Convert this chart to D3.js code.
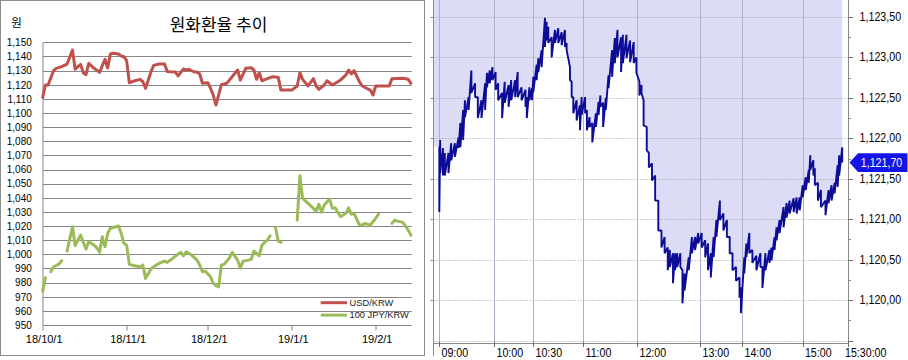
<!DOCTYPE html>
<html><head><meta charset="utf-8">
<script src="https://cdn.jsdelivr.net/npm/d3@7"></script>
<style>html,body{margin:0;padding:0;background:#fff;}svg{display:block;}</style>
</head><body>
<svg id="c" width="908" height="360"></svg>
<script>
// ---------------- DATA ----------------
const chartTitle = "원화환율 추이";
const unitLabel = "원";
const seriesNames = ["USD/KRW", "100 JPY/KRW"];

const usdDates = ["2018-10-01","2018-10-02","2018-10-03","2018-10-05","2018-10-06","2018-10-08","2018-10-09","2018-10-10","2018-10-12","2018-10-13","2018-10-14","2018-10-15","2018-10-16","2018-10-17","2018-10-18","2018-10-20","2018-10-22","2018-10-24","2018-10-25","2018-10-26","2018-10-27","2018-10-29","2018-10-30","2018-10-31","2018-11-01","2018-11-02","2018-11-04","2018-11-06","2018-11-07","2018-11-08","2018-11-10","2018-11-11","2018-11-13","2018-11-15","2018-11-16","2018-11-17","2018-11-19","2018-11-20","2018-11-22","2018-11-23","2018-11-24","2018-11-26","2018-11-27","2018-11-28","2018-11-29","2018-12-01","2018-12-02","2018-12-03","2018-12-04","2018-12-06","2018-12-08","2018-12-12","2018-12-13","2018-12-15","2018-12-17","2018-12-18","2018-12-19","2018-12-20","2018-12-21","2018-12-23","2018-12-25","2018-12-27","2018-12-28","2019-01-01","2019-01-03","2019-01-04","2019-01-05","2019-01-07","2019-01-09","2019-01-10","2019-01-11","2019-01-13","2019-01-14","2019-01-16","2019-01-18","2019-01-19","2019-01-21","2019-01-22","2019-01-23","2019-01-24","2019-01-26","2019-01-27","2019-01-30","2019-01-31","2019-02-01","2019-02-05","2019-02-06","2019-02-07","2019-02-11","2019-02-13","2019-02-14"];
const usdValues = [1111.0,1119.8,1119.8,1129.9,1131.6,1132.8,1133.7,1134.6,1144.6,1130.9,1132.8,1134.4,1128.5,1127.1,1135.1,1131.6,1128.7,1138.0,1131.8,1141.7,1142.2,1141.7,1140.3,1139.8,1137.0,1121.4,1122.8,1123.8,1122.1,1117.4,1129.2,1133.7,1134.6,1134.6,1129.4,1129.2,1129.0,1126.2,1131.1,1130.4,1130.9,1129.0,1129.0,1127.6,1121.0,1121.4,1117.4,1112.7,1105.6,1120.0,1121.0,1130.4,1123.3,1131.6,1132.0,1130.4,1123.8,1128.5,1122.8,1124.3,1125.7,1125.2,1116.2,1116.2,1119.1,1128.5,1123.8,1119.1,1124.3,1119.1,1116.7,1119.8,1122.8,1119.8,1122.1,1123.3,1126.9,1130.4,1127.6,1129.9,1122.1,1119.1,1116.2,1112.7,1119.1,1119.1,1119.1,1124.3,1124.5,1123.8,1121.0];

const jpyDates = ["2018-10-01","2018-10-02","2018-10-03","2018-10-04","2018-10-05","2018-10-07","2018-10-08","2018-10-09","2018-10-10","2018-10-12","2018-10-13","2018-10-14","2018-10-15","2018-10-16","2018-10-17","2018-10-18","2018-10-20","2018-10-21","2018-10-22","2018-10-23","2018-10-24","2018-10-25","2018-10-26","2018-10-28","2018-10-29","2018-10-30","2018-10-31","2018-11-01","2018-11-02","2018-11-04","2018-11-06","2018-11-07","2018-11-08","2018-11-10","2018-11-11","2018-11-13","2018-11-15","2018-11-16","2018-11-18","2018-11-20","2018-11-21","2018-11-22","2018-11-23","2018-11-25","2018-11-27","2018-11-28","2018-11-29","2018-11-30","2018-12-02","2018-12-03","2018-12-04","2018-12-05","2018-12-06","2018-12-07","2018-12-09","2018-12-10","2018-12-12","2018-12-13","2018-12-14","2018-12-16","2018-12-17","2018-12-18","2018-12-20","2018-12-21","2018-12-22","2018-12-23","2018-12-24","2018-12-25","2018-12-26","2018-12-27","2018-12-28","2018-12-31","2019-01-03","2019-01-04","2019-01-05","2019-01-07","2019-01-09","2019-01-10","2019-01-11","2019-01-12","2019-01-13","2019-01-15","2019-01-16","2019-01-17","2019-01-19","2019-01-21","2019-01-22","2019-01-23","2019-01-24","2019-01-26","2019-01-27","2019-01-28","2019-01-30","2019-01-31","2019-02-02","2019-02-04","2019-02-07","2019-02-08","2019-02-09","2019-02-11","2019-02-12","2019-02-13","2019-02-14"];
const jpyValues = [974.0,983.4,null,987.7,991.2,993.1,995.4,null,1002.3,1019.5,1006.1,1010.1,1013.6,1008.5,1003.7,1008.9,1006.5,1004.6,1001.4,1012.4,1005.3,1014.8,1018.4,1019.5,1020.0,1014.8,1007.8,1006.5,992.9,991.9,991.2,992.4,983.0,989.6,991.2,993.6,995.2,994.3,997.1,1000.2,1001.4,999.0,1001.8,999.5,995.9,992.4,987.7,988.1,984.1,979.4,977.8,977.0,992.4,992.9,997.6,1001.4,995.9,990.1,995.2,995.9,996.4,1002.3,999.0,1006.5,1008.5,1010.1,1013.1,null,1018.8,1009.4,1008.5,null,1024.2,1055.6,1039.6,1036.0,1032.5,1030.6,1035.4,1029.7,1034.9,1039.1,1032.5,1032.9,1026.6,1029.0,1032.9,1028.3,1029.0,1020.7,1020.7,1021.9,1020.7,1023.0,1028.3,null,1021.9,1024.2,1023.5,1022.6,1020.0,1017.0,1013.6];

const rateXTicks = ["2018-10-01","2018-11-01","2018-12-01","2019-01-01","2019-02-01"];
const rateYTicks = [950,960,970,980,990,1000,1010,1020,1030,1040,1050,1060,1070,1080,1090,1100,1110,1120,1130,1140,1150];

const intradayTimes = ["09:00","09:01","09:04","09:06","09:10","09:13","09:17","09:21","09:23","09:26","09:28","09:32","09:35","09:39","09:42","09:46","09:50","09:52","09:55","09:58","10:01","10:03","10:06","10:08","10:11","10:13","10:16","10:18","10:21","10:24","10:25","10:27","10:29","10:30","10:32","10:33","10:35","10:37","10:38","10:39","10:41","10:43","10:45","10:47","10:49","10:50","10:52","10:53","10:54","10:56","10:58","10:59","11:02","11:04","11:07","11:10","11:14","11:17","11:19","11:22","11:25","11:28","11:32","11:35","11:38","11:42","11:44","11:48","11:52","11:56","11:59","12:02","12:04","12:06","12:09","12:11","12:14","12:17","12:20","12:23","12:26","12:29","12:31","12:34","12:36","12:38","12:41","12:43","12:45","12:49","12:52","12:55","12:58","13:02","13:07","13:11","13:15","13:19","13:23","13:28","13:33","13:38","13:42","13:46","13:51","13:56","13:58","14:02","14:04","14:07","14:10","14:14","14:18","14:20","14:23","14:27","14:29","14:32","14:34","14:37","14:41","14:44","14:47","14:51","14:54","14:57","15:00","15:02","15:04","15:05","15:07","15:08","15:10","15:12","15:15","15:17","15:19","15:21","15:23","15:24","15:26"];
const intradayHigh = [1121.90,1121.98,1121.88,1121.82,1121.82,1121.94,1121.94,1122.01,1122.19,1122.35,1122.47,1122.51,1122.84,1122.68,1122.51,1122.47,1122.68,1122.81,1122.84,1122.88,1122.82,1122.68,1122.56,1122.70,1122.66,1122.72,1122.72,1122.82,1122.63,1122.60,1122.51,1122.63,1122.62,1122.76,1122.91,1122.99,1123.09,1123.49,1123.44,1123.38,1123.25,1123.34,1123.36,1123.31,1123.34,1123.18,1122.88,1122.70,1122.51,1122.47,1122.41,1122.51,1122.51,1122.35,1122.26,1122.19,1122.31,1122.45,1122.53,1122.44,1122.50,1122.78,1123.09,1123.24,1123.34,1123.25,1123.28,1123.28,1123.21,1123.19,1123.00,1122.70,1122.66,1122.47,1122.14,1121.82,1121.69,1121.54,1121.23,1120.86,1120.78,1120.65,1120.62,1120.58,1120.58,1120.58,1120.58,1120.37,1120.33,1120.53,1120.78,1120.78,1120.83,1120.83,1120.74,1120.70,1120.58,1120.78,1120.99,1121.23,1121.07,1120.99,1120.78,1120.58,1120.41,1120.28,1120.16,1120.53,1120.70,1120.83,1120.62,1120.55,1120.58,1120.41,1120.58,1120.62,1120.65,1120.78,1120.90,1120.99,1121.15,1121.20,1121.23,1121.26,1121.27,1121.27,1121.42,1121.52,1121.61,1121.79,1121.73,1121.63,1121.45,1121.36,1121.23,1121.36,1121.42,1121.45,1121.67,1121.79,1121.89];
const intradayLow = [1121.09,1121.57,1121.54,1121.54,1121.57,1121.73,1121.77,1121.88,1121.89,1121.98,1122.26,1122.35,1122.56,1122.51,1122.25,1122.25,1122.35,1122.63,1122.68,1122.72,1122.60,1122.47,1122.25,1122.44,1122.39,1122.47,1122.51,1122.51,1122.47,1122.39,1122.25,1122.47,1122.47,1122.57,1122.72,1122.82,1122.88,1123.13,1123.21,1123.18,1123.00,1123.18,1123.18,1123.15,1123.13,1123.09,1122.72,1122.51,1122.31,1122.22,1122.10,1122.29,1122.31,1122.10,1122.14,1121.95,1122.14,1122.29,1122.39,1122.14,1122.35,1122.62,1122.76,1122.93,1123.00,1122.82,1122.93,1122.99,1122.94,1122.93,1122.81,1122.53,1122.56,1122.16,1121.85,1121.64,1121.48,1121.23,1120.86,1120.65,1120.58,1120.37,1120.41,1120.21,1120.37,1120.41,1120.41,1119.96,1120.12,1120.37,1120.58,1120.62,1120.70,1120.65,1120.53,1120.37,1120.28,1120.53,1120.78,1120.99,1120.86,1120.78,1120.58,1120.37,1120.24,1120.03,1119.84,1120.33,1120.53,1120.58,1120.46,1120.37,1120.41,1120.15,1120.37,1120.46,1120.49,1120.62,1120.74,1120.83,1120.90,1121.02,1121.07,1121.09,1121.07,1121.11,1121.27,1121.36,1121.45,1121.61,1121.54,1121.42,1121.23,1121.15,1121.05,1121.20,1121.23,1121.32,1121.40,1121.54,1121.70];

const timeTicks = ["09:00","10:00","10:30","11:00","12:00","13:00","14:00","15:00","15:30:00"];
const priceTicks = [1119.5,1120.0,1120.5,1121.0,1121.5,1122.0,1122.5,1123.0,1123.5];
const priceMinorTicks = [1119.75,1120.25,1120.75,1121.25,1121.75,1122.25,1122.75,1123.25];

// ---------------- DRAW ----------------
const svg = d3.select("#c");
const parseD = d3.timeParse("%Y-%m-%d");
const parseT = s => d3.timeParse("%H:%M:%S")(s) || d3.timeParse("%H:%M")(s);
const crisp = v => Math.round(v) + 0.5;
const FONT = "'Liberation Sans', Arial, sans-serif";
const KFONT = "'Noto Sans CJK KR', 'Noto Sans', sans-serif";
const NX = 0.82; // horizontal squeeze for the narrow HTS font look

// ===== Left panel =====
const usd = usdDates.map((d, i) => ({date: parseD(d), v: usdValues[i]}));
const jpy = jpyDates.map((d, i) => ({date: parseD(d), v: jpyValues[i]}));

const xL = d3.scaleTime().domain(d3.extent(usd, d => d.date)).range([42.7, 410.9]);
const yL = d3.scaleLinear().domain(d3.extent(rateYTicks)).range([325, 42.3]);
const gridRight = 411.7;
const axisX = crisp(xL.range()[0]) - 0.5;

const left = svg.append("g");
left.append("rect").attr("x", 0.5).attr("y", 0.5).attr("width", 424).attr("height", 355)
  .attr("fill", "#fff").attr("stroke", "#8c8c8c");

left.selectAll("line.grid").data(rateYTicks).join("line")
  .attr("x1", axisX).attr("x2", gridRight)
  .attr("y1", d => crisp(yL(d))).attr("y2", d => crisp(yL(d)))
  .attr("stroke", "#868686").attr("stroke-width", 1);

left.append("line").attr("x1", axisX).attr("x2", axisX)
  .attr("y1", crisp(yL(d3.max(rateYTicks)))).attr("y2", crisp(yL(d3.min(rateYTicks))))
  .attr("stroke", "#868686");

left.selectAll("text.yl").data(rateYTicks).join("text")
  .attr("x", 31.8).attr("y", d => yL(d) + 0.3)
  .attr("text-anchor", "end").attr("dominant-baseline", "central")
  .attr("font-family", FONT).attr("font-size", 10).attr("fill", "#000")
  .text(d => d3.format(",")(d));

const xt = rateXTicks.map(parseD);
left.selectAll("line.xt").data(xt).join("line")
  .attr("x1", d => crisp(xL(d)) - 0.5).attr("x2", d => crisp(xL(d)) - 0.5)
  .attr("y1", crisp(yL(950))).attr("y2", crisp(yL(950)) + 5)
  .attr("stroke", "#868686");
left.selectAll("text.xl").data(xt).join("text")
  .attr("x", d => xL(d) + 1.5).attr("y", 343.3)
  .attr("text-anchor", "middle")
  .attr("font-family", FONT).attr("font-size", 11).attr("fill", "#000")
  .text(d => d3.timeFormat("%y/%-m/%-d")(d));

left.append("text").attr("x", 218.5).attr("y", 30.5).attr("text-anchor", "middle")
  .attr("font-family", KFONT).attr("font-size", 17).attr("fill", "#000").text(chartTitle);
left.append("text").attr("x", 16.5).attr("y", 27).attr("text-anchor", "middle")
  .attr("font-family", KFONT).attr("font-size", 11.5).attr("fill", "#000").text(unitLabel);

const lineL = d3.line().defined(d => d.v != null).x(d => xL(d.date)).y(d => yL(d.v));
const colors = ["#C0504D", "#9BBB59"];
left.append("path").attr("d", lineL(jpy)).attr("fill", "none").attr("stroke", colors[1])
  .attr("stroke-width", 3).attr("stroke-linejoin", "round").attr("stroke-linecap", "round");
left.append("path").attr("d", lineL(usd)).attr("fill", "none").attr("stroke", colors[0])
  .attr("stroke-width", 3).attr("stroke-linejoin", "round").attr("stroke-linecap", "round");

const leg = left.append("g");
seriesNames.forEach((name, i) => {
  const ly = 302.7 + i * 12.4;
  leg.append("line").attr("x1", 320.7).attr("x2", 347).attr("y1", ly).attr("y2", ly)
    .attr("stroke", colors[i]).attr("stroke-width", 3);
  leg.append("text").attr("x", 349.5).attr("y", ly).attr("dominant-baseline", "central")
    .attr("font-family", FONT).attr("font-size", 9.3).attr("fill", "#1a1a1a").text(name);
});

// ===== Right panel =====
const R = {left: 433.5, right: 848.5, top: 0, bottom: 343.5};
const tickPx = [439.3, 494.3, 533.3, 583.3, 637.3, 700.3, 742.3, 802.7, 848.3];
const xR = d3.scaleTime().domain(timeTicks.map(parseT)).range(tickPx);
const yR = d3.scaleLinear().domain([1119.47, 1123.71]).range([343, 0]);

const ticks = [];
intradayTimes.forEach((t, i) => {
  const tt = parseT(t);
  ticks.push({t: tt, v: intradayHigh[i]});
  ticks.push({t: tt, v: intradayLow[i]});
});

const right = svg.append("g");
const areaPts = [{x: R.left, y: yR(ticks[0].v)}].concat(ticks.map(d => ({x: xR(d.t), y: yR(d.v)})));
right.append("path")
  .attr("d", d3.area().x(p => p.x).y0(R.top).y1(p => p.y)(areaPts))
  .attr("fill", "#dcdcf6");

right.selectAll("line.vg").data(timeTicks.slice(0, -1).map(parseT)).join("line")
  .attr("x1", d => crisp(xR(d))).attr("x2", d => crisp(xR(d)))
  .attr("y1", 0).attr("y2", R.bottom)
  .attr("stroke", "#a9b2c9").attr("stroke-width", 1);
right.selectAll("line.hg").data(priceTicks).join("line")
  .attr("x1", R.left).attr("x2", R.right)
  .attr("y1", d => crisp(yR(d))).attr("y2", d => crisp(yR(d)))
  .attr("stroke", "#9c9c9c").attr("stroke-width", 1).attr("stroke-dasharray", "1,2");

right.append("path").attr("d", d3.line().x(d => xR(d.t)).y(d => yR(d.v))(ticks))
  .attr("fill", "none").attr("stroke", "#0c0c96").attr("stroke-width", 1.9)
  .attr("stroke-linejoin", "bevel");

right.append("line").attr("x1", R.left).attr("x2", R.left).attr("y1", 0).attr("y2", 356)
  .attr("stroke", "#8a8a8a");
right.selectAll("line.lt").data(priceTicks.slice(1)).join("line")
  .attr("x1", R.left - 3).attr("x2", R.left)
  .attr("y1", d => crisp(yR(d))).attr("y2", d => crisp(yR(d)))
  .attr("stroke", "#8a8a8a");
right.append("line").attr("x1", R.left).attr("x2", R.right).attr("y1", R.bottom).attr("y2", R.bottom)
  .attr("stroke", "#8a8a8a");
right.append("line").attr("x1", R.right).attr("x2", R.right).attr("y1", 0).attr("y2", R.bottom)
  .attr("stroke", "#8a8a8a");

right.selectAll("line.bt").data(timeTicks.map(parseT)).join("line")
  .attr("x1", d => crisp(xR(d))).attr("x2", d => crisp(xR(d)))
  .attr("y1", R.bottom - 2).attr("y2", R.bottom + 3.5)
  .attr("stroke", "#6a6a6a");

// narrow text helper
function narrowText(sel, x, y, txt, fill) {
  sel.append("g").attr("transform", `translate(${x},${y}) scale(${NX},1)`)
    .append("text").attr("x", 0).attr("y", 0)
    .attr("font-family", FONT).attr("font-size", 13).attr("fill", fill)
    .attr("dominant-baseline", "central").text(txt);
}

timeTicks.forEach((d, i) => {
  const x = i === timeTicks.length - 1 ? xR(parseT(d)) - 3.3 : xR(parseT(d)) + 2.2;
  narrowText(right, x, 352.2, d, "#000");
});

const fmtP = v => d3.format(",.2f")(v).replace(".", ",");
right.selectAll("line.rt").data(priceTicks).join("line")
  .attr("x1", R.right).attr("x2", R.right + 4.5)
  .attr("y1", d => crisp(yR(d))).attr("y2", d => crisp(yR(d)))
  .attr("stroke", "#6a6a6a");
right.selectAll("line.rmt").data(priceMinorTicks).join("line")
  .attr("x1", R.right).attr("x2", R.right + 2.5)
  .attr("y1", d => crisp(yR(d))).attr("y2", d => crisp(yR(d)))
  .attr("stroke", "#8a8a8a");
priceTicks.filter(v => v >= 1120).forEach(v => narrowText(right, 859.6, yR(v) - 0.5, fmtP(v), "#000"));

const last = ticks[ticks.length - 1].v;
const yc = yR(last);
right.append("path")
  .attr("d", `M${R.right + 1},${yc} L858,${yc - 9.3} L907.5,${yc - 9.3} L907.5,${yc + 9.3} L858,${yc + 9.3} Z`)
  .attr("fill", "#1414e6");
narrowText(right, 860.8, yc + 0.3, fmtP(last), "#fff");
</script>
</body></html>
